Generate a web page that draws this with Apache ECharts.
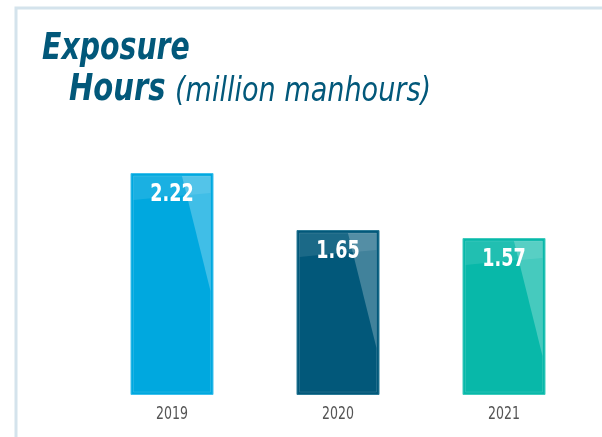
<!DOCTYPE html>
<html>
<head>
<meta charset="utf-8">
<script src="https://cdn.jsdelivr.net/npm/echarts@6/dist/echarts.min.js"></script>
<style>html,body{margin:0;padding:0;background:#fff}#c{width:602px;height:437px}</style>
</head>
<body>
<div id="c"></div>
<script>
const years = ['2019', '2020', '2021'];
const hours = [2.22, 1.65, 1.57];
const barColors = ['#00a8df', '#02587a', '#08b8a9'];
const borderColors = ['#3fc0ec', '#2a7a96', '#3fcbbd'];

const COND = '"DejaVu Sans Condensed", "DejaVu Sans", sans-serif';
const chart = echarts.init(document.getElementById('c'), null, {renderer: 'canvas'});

const option = {
  animation: false,
  backgroundColor: '#ffffff',
  grid: {left: 89, right: 15, bottom: 42, height: 300},
  xAxis: {
    type: 'category', data: years,
    axisLine: {show: false}, axisTick: {show: false},
    axisLabel: {show: false}
  },
  yAxis: {type: 'value', min: 0, max: 3, show: false, splitLine: {show: false}},
  graphic: [
    {type: 'polyline', shape: {points: [[16, 437], [16, 8], [602, 8]]},
     style: {stroke: '#d4e3ec', lineWidth: 3, fill: null}, silent: true},
    {type: 'text', x: 42, y: 30, scaleX: 0.83,
     style: {text: 'Exposure', fill: '#02587a', font: 'italic bold 38px ' + COND, textVerticalAlign: 'top'}},
    {type: 'text', x: 69, y: 71, scaleX: 0.85,
     style: {text: 'Hours', fill: '#02587a', font: 'italic bold 38px ' + COND, textVerticalAlign: 'top'}},
    {type: 'text', x: 175, y: 75, scaleX: 0.885,
     style: {text: '(million manhours)', fill: '#02587a', font: 'italic 34px ' + COND, textVerticalAlign: 'top'}}
  ],
  series: [
    {
      type: 'bar', barWidth: '50%',
      data: hours.map((v, i) => ({value: v, itemStyle: {color: barColors[i], borderColor: borderColors[i], borderWidth: 1}})),
      z: 2
    },
    {
      type: 'custom', z: 3, silent: true,
      data: hours.map((v, i) => [i, v]),
      renderItem: function (params, api) {
        const idx = api.value(0);
        const val = api.value(1);
        const top = api.coord([idx, val]);
        const base = api.coord([idx, 0]);
        const w = api.size([1, 0])[0] * 0.5;
        const L = top[0] - w / 2, R = top[0] + w / 2, T = top[1], B = base[1];
        const ins = 3;
        return {
          type: 'group',
          children: [
            {type: 'rect', shape: {x: L + ins, y: T + ins, width: w - 2 * ins, height: B - T - 2 * ins},
             style: {fill: null, stroke: 'rgba(255,255,255,0.12)', lineWidth: 1}},
            {type: 'polygon', shape: {points: [
              [L + ins, T + ins], [R - ins, T + ins], [R - ins, T + 20],
              [L + w * 0.7, T + 22], [L + w * 0.4, T + 24], [L + ins, T + 27]
            ]}, style: {fill: 'rgba(255,255,255,0.10)'}},
            {type: 'polygon', shape: {points: [
              [L + w * 0.62, T + ins], [R - ins, T + ins], [R - ins, T + 118]
            ]}, style: {fill: 'rgba(255,255,255,0.25)'}},
            {type: 'text', x: top[0], y: T + 9, scaleX: 0.78,
             style: {text: val.toFixed(2), fill: '#ffffff', font: 'bold 25px ' + COND,
                     textAlign: 'center', textVerticalAlign: 'top'}},
            {type: 'text', x: top[0], y: B + 11, scaleX: 0.82,
             style: {text: years[idx], fill: '#555555', font: '17px ' + COND,
                     textAlign: 'center', textVerticalAlign: 'top'}}
          ]
        };
      }
    }
  ]
};
chart.setOption(option);
</script>
</body>
</html>
